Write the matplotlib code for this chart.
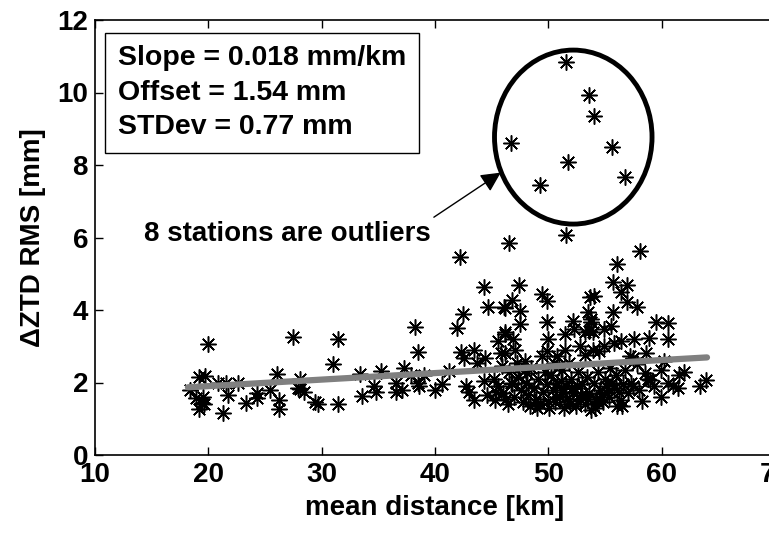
import numpy as np
import matplotlib.pyplot as plt
from matplotlib.patches import Ellipse

plt.rcParams['font.family'] = ['Liberation Sans', 'DejaVu Sans']
plt.rcParams['font.weight'] = 'bold'
plt.rcParams['axes.labelweight'] = 'bold'
plt.rcParams['font.size'] = 20

# mean distance to neighbours [km] and ZTD difference RMS [mm] per station
dist = [
    18.4, 18.9, 19.2, 19.7, 19.45, 19.65, 19.2, 19.97, 20.85, 21.6, 21.7, 21.25, 19.5,
    23.3, 24.3, 24.3, 25.4, 26.1, 26.2, 26.2, 27.5, 27.9, 28.1, 28.1, 28.4, 22.6,
    29.4, 29.7, 31.4, 31.0, 31.4, 33.4, 33.6, 34.8, 35.2, 34.6, 36.6, 36.6, 37.3,
    37.1, 38.5, 38.2, 38.5, 37.9,
    39.0, 38.6, 40.0, 41.2, 42.25, 44.3, 44.7, 42.5, 41.9, 42.3, 43.4, 42.6, 44.4,
    43.7, 42.7, 43.0, 44.3, 43.4, 44.6, 45.3, 40.6,
    46.5, 47.4, 46.8, 46.1, 46.2, 47.5, 47.5, 46.2, 46.9, 46.2, 45.6, 45.8, 46.2,
    47.2, 49.4, 49.9, 49.9, 50.0, 49.85, 49.4, 45.2, 45.6, 46.0, 46.3, 46.5, 46.8,
    47.0, 47.3, 47.6, 47.8, 48.0, 48.2, 48.5, 48.7, 48.9, 49.1, 49.3, 49.5, 49.7,
    49.9, 50.0, 45.9, 46.7, 47.1, 47.9, 48.4, 49.0, 45.4, 47.4, 46.4, 48.1, 48.8,
    51.6, 53.65, 54.0, 53.5, 52.2, 51.5, 52.3, 53.2, 53.8, 53.6, 50.8, 51.5, 52.8,
    53.2, 53.9, 50.5, 51.8, 56.1, 55.7, 56.9, 56.4, 56.9, 57.8, 55.7, 55.5, 53.9,
    54.9, 55.8, 56.4, 57.6, 54.9, 54.5, 57.2, 57.5, 55.35, 56.4, 53.8,
    50.2, 50.4, 50.6, 50.8, 51.0, 51.2, 51.4, 51.6, 51.8, 52.0, 52.2, 52.4, 52.6,
    52.8, 53.0, 53.2, 53.4, 53.6, 53.8, 54.0, 54.2, 54.4, 54.6, 54.8, 55.0, 55.2,
    55.6, 55.8, 56.0, 56.2, 56.6, 56.8, 57.0, 50.1, 50.9, 51.3, 52.5, 53.3, 54.1,
    55.4, 56.5, 57.3, 50.7, 51.9, 52.9, 54.3, 55.1, 56.1, 51.1, 52.1, 53.5, 54.7,
    58.1, 59.5, 58.9, 60.6, 58.6, 63.9, 63.4, 61.5, 61.4, 59.9, 59.9, 58.0, 58.5,
    60.6, 61.0, 59.0, 57.8, 58.3, 59.3, 60.2, 62.0, 57.5, 58.8, 60.6,
    # outliers
    51.6, 53.6, 54.0, 46.7, 55.6, 51.7, 56.8, 49.3,
]
rms = [
    1.78, 1.56, 2.15, 2.19, 1.44, 1.42, 1.26, 3.05, 1.98, 1.98, 1.66, 1.15, 1.60,
    1.44, 1.70, 1.56, 1.80, 2.24, 1.52, 1.28, 3.26, 1.84, 2.10, 1.82, 1.75, 2.00,
    1.47, 1.42, 3.19, 2.51, 1.40, 2.24, 1.63, 1.75, 2.31, 1.89, 1.98, 1.75, 2.40,
    1.78, 1.98, 3.54, 2.84, 2.21,
    2.21, 1.89, 1.80, 2.31, 5.47, 4.64, 4.08, 3.89, 3.49, 2.84, 2.91, 2.68, 2.68,
    2.54, 1.89, 1.75, 2.03, 1.52, 1.66, 1.52, 1.95,
    5.85, 4.68, 4.27, 4.08, 4.05, 3.96, 3.61, 3.38, 3.19, 3.33, 3.15, 2.82, 2.82,
    2.54, 4.45, 4.25, 3.68, 3.19, 2.87, 2.73, 2.10, 1.90, 1.70, 1.55, 2.30, 1.95,
    1.60, 2.15, 1.80, 1.45, 2.00, 1.65, 2.40, 1.85, 1.55, 2.10, 1.40, 1.75, 2.30,
    1.95, 1.50, 2.45, 2.00, 2.90, 2.60, 1.35, 1.30, 1.75, 2.40, 1.40, 2.25, 1.45,
    6.08, 4.36, 4.40, 3.94, 3.71, 3.33, 3.47, 3.38, 3.75, 3.43, 2.73, 2.91, 3.00,
    2.77, 2.91, 2.54, 2.54, 5.26, 4.76, 4.70, 4.50, 4.22, 4.08, 3.94, 3.57, 3.38,
    3.47, 3.10, 3.15, 3.19, 3.00, 2.87, 2.73, 2.68, 1.61, 1.52, 3.66,
    2.20, 1.80, 1.45, 2.00, 1.60, 2.35, 1.30, 1.90, 1.50, 2.10, 1.70, 1.35, 2.30,
    1.55, 1.95, 1.40, 2.15, 1.70, 1.25, 2.00, 1.55, 2.30, 1.80, 1.45, 2.10, 1.70,
    2.00, 1.85, 2.20, 1.75, 1.95, 2.35, 1.70, 1.30, 2.45, 1.75, 1.90, 1.60, 1.30,
    2.40, 1.35, 2.00, 1.60, 1.40, 1.65, 1.50, 1.90, 1.35, 2.05, 1.85, 1.55, 1.60,
    5.63, 3.66, 3.24, 3.21, 2.82, 2.08, 1.89, 2.21, 1.84, 2.35, 1.61, 1.80, 2.26,
    2.00, 1.90, 2.08, 2.50, 1.50, 1.90, 2.60, 2.30, 1.90, 2.10, 3.65,
    # outliers
    10.84, 9.94, 9.36, 8.60, 8.49, 8.07, 7.68, 7.46,
]

slope = 0.018   # mm/km
offset = 1.54   # mm
stdev = 0.77    # mm

dist = np.array(dist)
rms = np.array(rms)

fig = plt.figure(figsize=(7.69, 5.33), dpi=100)
ax = fig.add_axes([95 / 769, (533 - 455) / 533, 680 / 769, 435 / 533])

ax.plot(dist, rms, linestyle='none', marker=(8, 2, 0), markersize=11.5,
        markeredgewidth=1.1, color='black', zorder=2)

# linear fit over the distance range
xf = np.array([dist.min() - 0.2, dist.max() + 0.1])
ax.plot(xf, offset + slope * xf, color='#808080', linewidth=4.5,
        solid_capstyle='round', zorder=3)

ax.add_patch(Ellipse((52.2, 8.77), 13.9, 4.8, fill=False,
                     edgecolor='black', linewidth=3.5, zorder=4))

ax.annotate('', xy=(45.8, 7.79), xytext=(39.9, 6.56),
            arrowprops=dict(arrowstyle='-|>', color='black', linewidth=1.0,
                            mutation_scale=30, shrinkA=0, shrinkB=0))
ax.text(14.3, 6.09, '8 stations are outliers', ha='left', va='center')

ax.text(12.0, 11.3,
        'Slope = %.3f mm/km\nOffset = %.2f mm\nSTDev = %.2f mm' % (slope, offset, stdev),
        ha='left', va='top', linespacing=1.42, fontsize=20.5,
        bbox=dict(boxstyle='square,pad=0.45', facecolor='white',
                  edgecolor='black', linewidth=1.0))

ax.set_xlim(10, 70)
ax.set_ylim(0, 12)
ax.set_xticks([10, 20, 30, 40, 50, 60, 70])
ax.set_yticks([0, 2, 4, 6, 8, 10, 12])
ax.tick_params(direction='in', length=6, width=1.0, top=True, right=False, pad=5)
for s in ax.spines.values():
    s.set_linewidth(1.2)

ax.set_xlabel('mean distance [km]', labelpad=5)
ax.set_ylabel('\u0394ZTD RMS [mm]', labelpad=8)

fig.savefig('out.png', dpi=100)
